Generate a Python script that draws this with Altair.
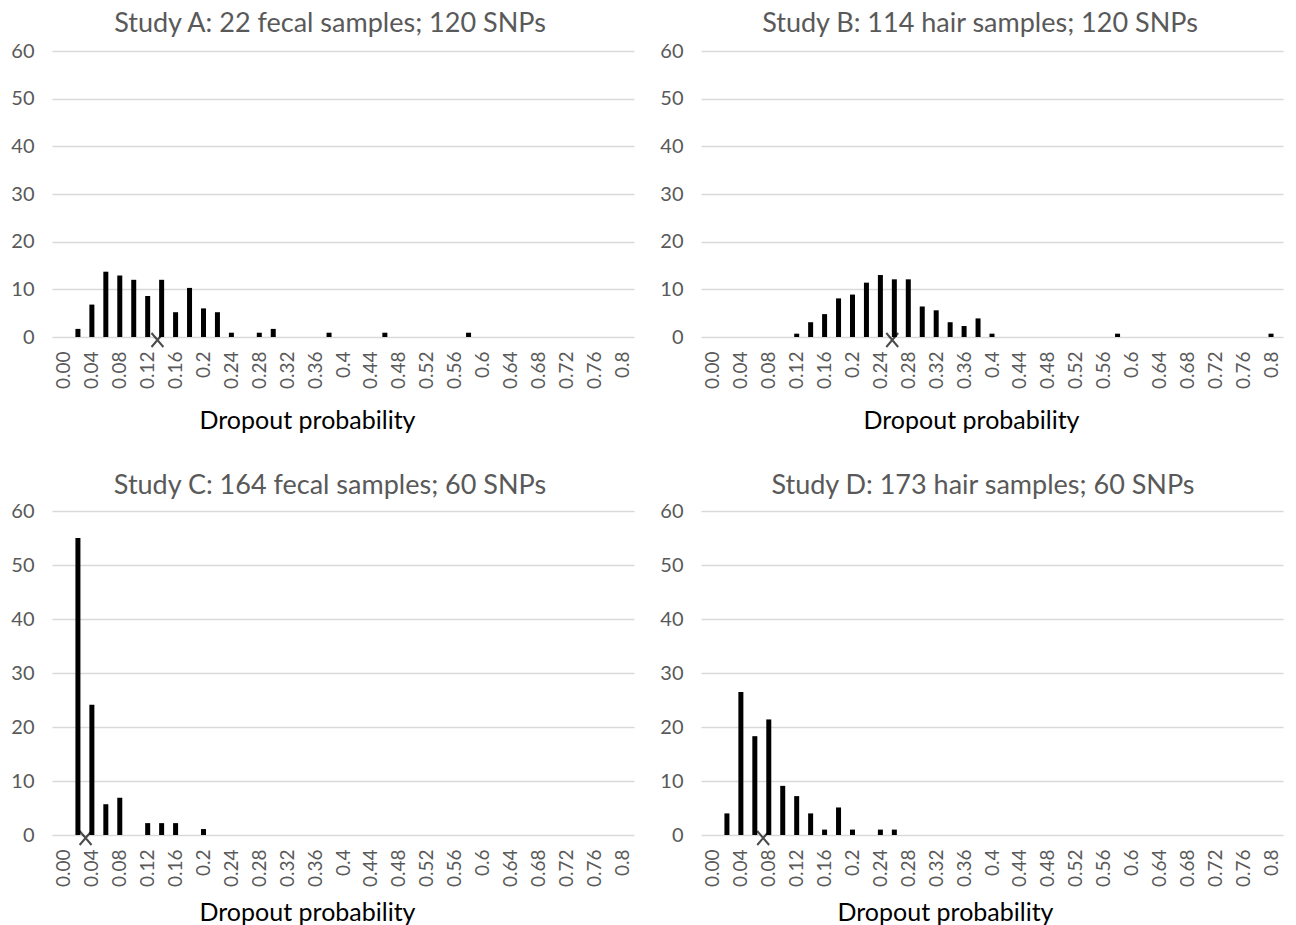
import json
import altair as alt
import pandas as pd

# ---- data ----
titles = [
    "Study A: 22 fecal samples; 120 SNPs",
    "Study B: 114 hair samples; 120 SNPs",
    "Study C: 164 fecal samples; 60 SNPs",
    "Study D: 173 hair samples; 60 SNPs",
]

A_bins = [0.02, 0.04, 0.06, 0.08, 0.10, 0.12, 0.14, 0.16, 0.18, 0.20, 0.22, 0.24, 0.28, 0.30, 0.38, 0.46, 0.58]
A_vals = [1.7, 6.8, 13.7, 12.9, 12.0, 8.6, 12.0, 5.2, 10.3, 6.0, 5.2, 0.9, 0.9, 1.7, 0.9, 0.9, 0.9]

B_bins = [0.12, 0.14, 0.16, 0.18, 0.20, 0.22, 0.24, 0.26, 0.28, 0.30, 0.32, 0.34, 0.36, 0.38, 0.40, 0.58, 0.80]
B_vals = [0.7, 3.1, 4.8, 8.1, 8.9, 11.4, 13.0, 12.1, 12.1, 6.4, 5.6, 3.1, 2.3, 3.9, 0.7, 0.7, 0.7]

C_bins = [0.02, 0.04, 0.06, 0.08, 0.12, 0.14, 0.16, 0.20]
C_vals = [55.0, 24.1, 5.7, 6.9, 2.2, 2.2, 2.2, 1.1]

D_bins = [0.02, 0.04, 0.06, 0.08, 0.10, 0.12, 0.14, 0.16, 0.18, 0.20, 0.24, 0.26]
D_vals = [4.0, 26.5, 18.3, 21.4, 9.1, 7.2, 4.0, 1.0, 5.1, 1.0, 1.0, 1.0]

means = [0.134, 0.257, 0.031, 0.072]

tick_labels = ["0.00", "0.04", "0.08", "0.12", "0.16", "0.2", "0.24", "0.28", "0.32", "0.36", "0.4",
               "0.44", "0.48", "0.52", "0.56", "0.6", "0.64", "0.68", "0.72", "0.76", "0.8"]
tick_values = [round(i * 0.04, 2) for i in range(len(tick_labels))]
y_ticks = [0, 10, 20, 30, 40, 50, 60]

FONT = "Lato"
GRAY = "#595959"
label_expr = json.dumps(tick_labels) + "[round(datum.value / 0.04)]"
X_SHAPE = "M-0.85,-1L0.85,1M-0.85,1L0.85,-1"


def panel(title, bins, vals, mean, h, title_x, title_pad, t_off, t_dx):
    df = pd.DataFrame({"p": bins, "v": vals})
    xs = alt.Scale(domain=[-0.01, 0.81], nice=False, zero=False)
    ys = alt.Scale(domain=[0, 60], nice=False)
    xaxis = alt.Axis(values=tick_values, labelExpr=label_expr, labelAngle=-90,
                     grid=False, domain=False, ticks=False, labelPadding=14,
                     labelFont=FONT, labelFontSize=19, labelColor=GRAY,
                     title="Dropout probability", titleFont=FONT, titleFontSize=25,
                     titleFontWeight="normal", titleColor="black", titlePadding=title_pad,
                     titleX=title_x, labelOverlap=False)
    yaxis = alt.Axis(values=y_ticks, grid=True, gridColor="#d9d9d9", gridWidth=1.3,
                     domain=False, ticks=False, labelPadding=18, labelFont=FONT,
                     labelFontSize=20, labelColor=GRAY, title=None)
    bars = alt.Chart(df).mark_bar(size=5, color="black").encode(
        x=alt.X("p:Q", scale=xs, axis=xaxis),
        y=alt.Y("v:Q", scale=ys, axis=yaxis),
    )
    mk = alt.Chart(pd.DataFrame({"p": [mean], "v": [0]})).mark_point(
        shape=X_SHAPE, size=196, filled=False, stroke="black", strokeWidth=2, yOffset=3
    ).encode(x=alt.X("p:Q", scale=xs, axis=xaxis), y=alt.Y("v:Q", scale=ys, axis=yaxis))
    return alt.layer(bars, mk).properties(
        width=582, height=h,
        title=alt.Title(title, font=FONT, fontSize=27, fontWeight="normal", color=GRAY,
                        offset=t_off, dx=t_dx),
    )


pA = panel(titles[0], A_bins, A_vals, means[0], 286, 255, 20, 3, -13)
pB = panel(titles[1], B_bins, B_vals, means[1], 286, 270, 20, 3, -12)
pC = panel(titles[2], C_bins, C_vals, means[2], 324, 255, 14, 1, -13)
pD = panel(titles[3], D_bins, D_vals, means[3], 324, 244, 14, 1, -9)

chart = alt.vconcat(
    alt.hconcat(pA, pB, spacing=25),
    alt.hconcat(pC, pD, spacing=25),
    spacing=38,
).configure_view(stroke=None).configure_axisX(labelOverlap=False).properties(
    background="white", padding={"left": 2, "top": 2, "right": 2, "bottom": 0}
)

chart.save("out.html", embed_options={"renderer": "svg", "actions": False})
